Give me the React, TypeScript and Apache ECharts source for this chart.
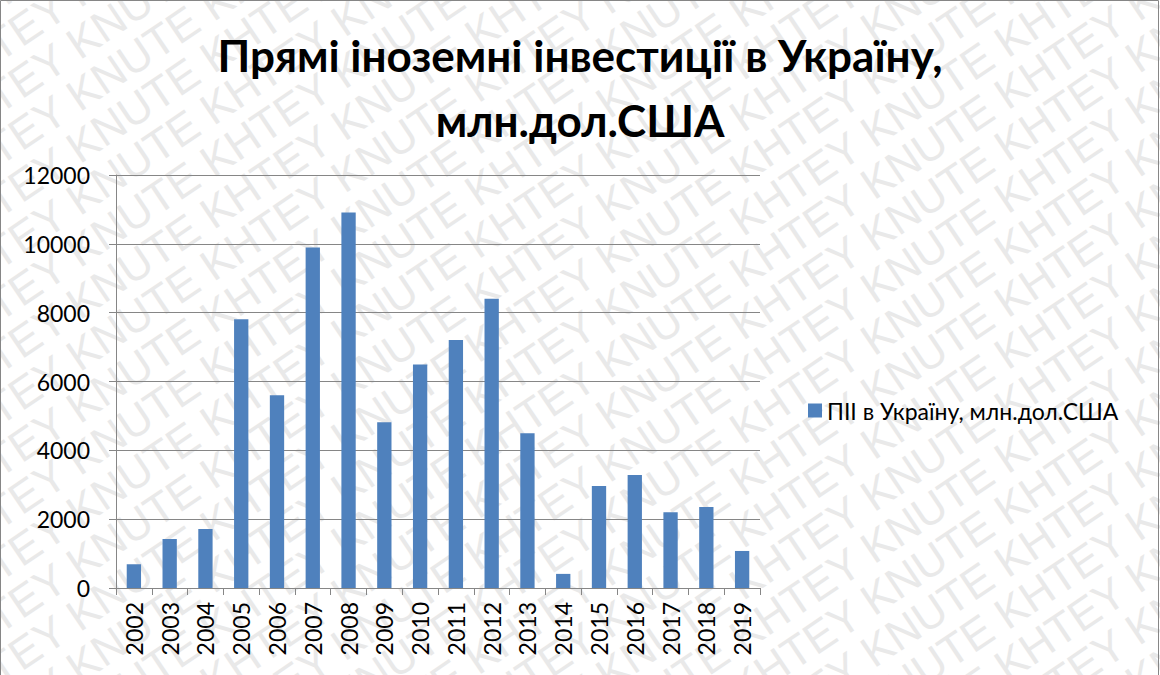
import React, { useEffect, useRef } from "react";
import * as echarts from "echarts";

const years = ["2002","2003","2004","2005","2006","2007","2008","2009","2010","2011","2012","2013","2014","2015","2016","2017","2018","2019"];
const fdiValues = [693, 1424, 1715, 7808, 5604, 9891, 10913, 4816, 6495, 7207, 8401, 4499, 410, 2961, 3284, 2202, 2355, 1076];
const seriesName = "ПІІ в Україну, млн.дол.США";
const titleText = "Прямі іноземні інвестиції в Україну,\nмлн.дол.США";
const watermarkWord = "KHTEY KNUTE ";

const FONT = "Lato, 'Noto Sans', sans-serif";

export default function App() {
  const ref = useRef<HTMLDivElement>(null);
  useEffect(() => {
    document.body.style.margin = "0";
    if (!ref.current) return;
    const chart = echarts.init(ref.current, null, { renderer: "svg" });

    const wm: any[] = [];
    const angle = (34 * Math.PI) / 180;
    const longText = watermarkWord.repeat(14);
    for (let i = 0; i < 32; i++) {
      wm.push({
        type: "text",
        x: -60,
        y: -20 + i * 52,
        rotation: angle,
        z: -10,
        silent: true,
        style: {
          text: longText,
          fill: "#e9e9e9",
          font: "44px 'Liberation Sans', Arial, sans-serif",
          textVerticalAlign: "middle",
        },
      });
    }

    chart.setOption({
      animation: false,
      backgroundColor: "#ffffff",
      title: {
        text: titleText,
        left: "center",
        top: 17,
        textStyle: {
          fontFamily: FONT,
          fontSize: 44,
          fontWeight: "bold",
          color: "#000",
          lineHeight: 65,
        },
      },
      graphic: [
        ...wm,
        {
          type: "rect",
          z: 100,
          silent: true,
          shape: { x: 0.5, y: 0.5, width: 1158, height: 700 },
          style: { fill: "none", stroke: "#868686", lineWidth: 1 },
        },
      ],
      legend: {
        left: 803,
        top: 394,
        icon: "rect",
        itemWidth: 14,
        itemHeight: 14,
        itemGap: 10,
        textStyle: { fontFamily: FONT, fontSize: 23, color: "#000" },
        data: [seriesName],
      },
      grid: { left: 116, right: 400, top: 175, bottom: 87, containLabel: false },
      xAxis: {
        type: "category",
        data: years,
        axisLine: { show: true, lineStyle: { color: "#868686", width: 1 } },
        axisTick: { show: true, alignWithLabel: false, length: 7, lineStyle: { color: "#868686" } },
        axisLabel: { rotate: 90, fontFamily: FONT, fontSize: 23, color: "#000", margin: 14 },
        splitLine: { show: false },
      },
      yAxis: {
        type: "value",
        min: 0,
        max: 12000,
        interval: 2000,
        axisLine: { show: true, lineStyle: { color: "#868686", width: 1 } },
        axisTick: { show: true, length: 7, lineStyle: { color: "#868686" } },
        axisLabel: {
          fontFamily: FONT,
          fontSize: 23,
          color: "#000",
          margin: 26,
          formatter: (v: number) => String(v),
        },
        splitLine: { show: true, lineStyle: { color: "#868686", width: 1 } },
      },
      series: [
        {
          name: seriesName,
          type: "bar",
          data: fdiValues,
          barWidth: "40%",
          itemStyle: { color: "#4f81bd" },
        },
      ],
    });
    return () => chart.dispose();
  }, []);
  return <div ref={ref} style={{ width: 1160, height: 675 }} />;
}
